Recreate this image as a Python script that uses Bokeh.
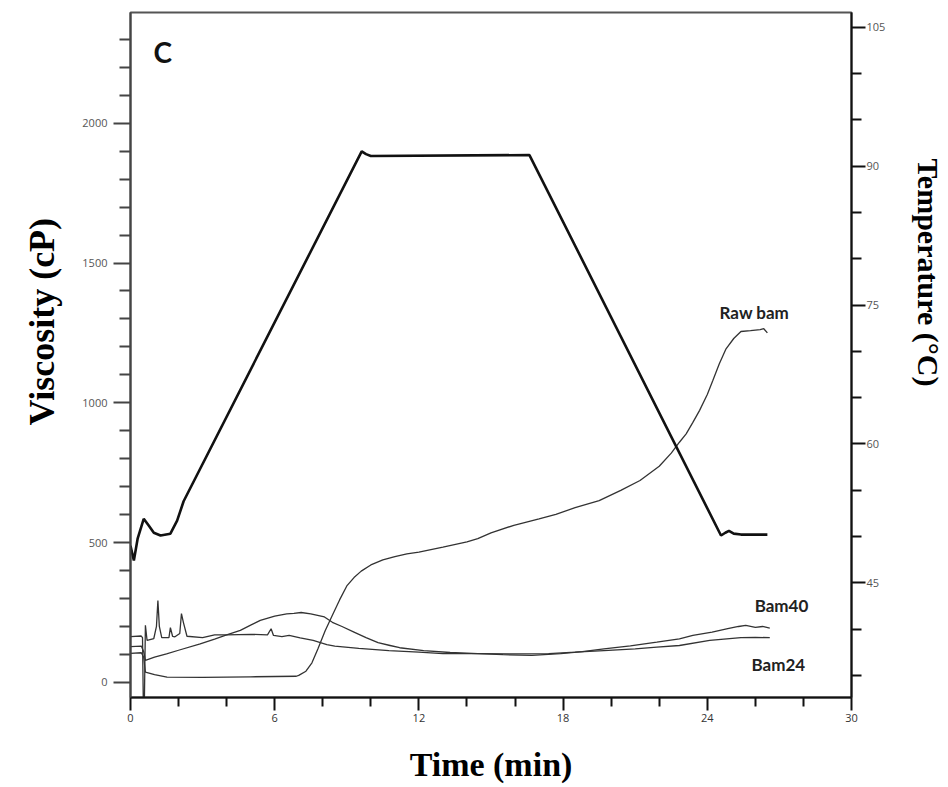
from bokeh.plotting import figure
from bokeh.models import Range1d, LinearAxis, FixedTicker, Label, Title
from bokeh.embed import file_html
from bokeh.resources import INLINE

# ---------------- data ----------------
temp_t = [0, 0.14, 0.3, 0.55, 0.75, 0.97, 1.25, 1.66, 1.94, 2.21, 9.62, 9.8, 10.0,
          16.6, 24.57, 24.75, 24.9, 25.1, 25.4, 26.5]
temp_v = [49.0, 47.4, 49.8, 51.9, 51.2, 50.4, 50.1, 50.3, 51.7, 53.8, 91.6, 91.3, 91.1,
          91.2, 50.1, 50.4, 50.6, 50.3, 50.2, 50.2]

raw_t = [0, 0.45, 0.55, 0.62, 1.0, 1.52, 3.0, 5.0, 6.9, 7.0, 7.3, 7.55, 7.8, 8.1, 8.4,
         8.7, 9.0, 9.3, 9.6, 10.0, 10.5, 11.0, 11.5, 12.0, 13.0, 14.0, 14.45, 15.0,
         15.95, 17.0, 17.7, 18.5, 19.5, 20.4, 21.2, 22.0, 22.5, 22.84, 23.12, 23.4,
         23.68, 24.0, 24.23, 24.5, 24.78, 25.1, 25.4, 25.8, 26.2, 26.35, 26.5]
raw_v = [104, 106, 90, 37, 28, 19, 18, 20, 22, 25, 40, 70, 120, 185, 240, 295, 345,
         375, 398, 420, 438, 450, 460, 466, 484, 503, 514, 535, 562, 585, 601, 625,
         650, 687, 722, 773, 820, 859, 889, 930, 973, 1030, 1080, 1140, 1193, 1230,
         1255, 1258, 1262, 1265, 1250]

b40_t = [0, 0.45, 0.55, 0.62, 1.0, 1.5, 2.0, 2.9, 3.5, 4.0, 4.57, 5.0, 5.4, 6.0, 6.5,
         6.8, 7.1, 7.5, 8.07, 8.4, 8.8, 9.3, 9.8, 10.3, 10.8, 11.2, 12.2, 13.3, 14.45,
         15.5, 16.7, 17.9, 18.8, 19.7, 20.8, 21.9, 22.84, 23.4, 24.2, 24.85, 25.3,
         25.6, 26.0, 26.3, 26.6]
b40_v = [128, 130, 110, 79, 90, 102, 115, 138, 155, 170, 186, 205, 222, 237, 245, 247,
         250, 245, 234, 215, 200, 180, 160, 142, 132, 124, 114, 107, 103, 99, 97, 103,
         110, 120, 131, 144, 156, 168, 180, 192, 200, 204, 197, 200, 194]

b24_t = [0, 0.44, 0.5, 0.53, 0.58, 0.62, 0.69, 0.97, 1.08, 1.14, 1.2, 1.3, 1.6, 1.66,
         1.75, 1.85, 2.05, 2.12, 2.2, 2.35, 3.0, 3.5, 4.0, 5.0, 5.7, 5.85, 5.95, 6.3,
         6.6, 7.06, 7.6, 8.17, 8.5, 9.5, 10.75, 12.0, 13.0, 14.5, 15.95, 17.4, 18.5,
         19.7, 21.0, 21.9, 22.84, 24.1, 25.4, 26.0, 26.6]
b24_v = [164, 166, 160, -54, -54, 204, 150, 157, 200, 293, 200, 160, 160, 196, 165,
         163, 175, 246, 215, 165, 160, 170, 170, 172, 170, 192, 168, 164, 168, 159,
         150, 135, 130, 122, 114, 108, 103, 103, 102, 103, 108, 114, 120, 126, 132,
         150, 160, 161, 160]

visc_major = [0, 500, 1000, 1500, 2000]
visc_minor = [100, 200, 300, 400, 600, 700, 800, 900, 1100, 1200, 1300, 1400,
              1600, 1700, 1800, 1900, 2100, 2200, 2300]
temp_major = [45, 60, 75, 90, 105]
temp_minor = [35, 40, 50, 55, 65, 70, 80, 85, 95, 100]
time_major = [0, 6, 12, 18, 24, 30]
time_minor = [2, 4, 8, 10, 14, 16, 20, 22, 26, 28]

# ---------------- figure ----------------
p = figure(width=948, height=787, output_backend="svg", toolbar_location=None,
           x_range=Range1d(0, 30), y_range=Range1d(-54, 2396),
           x_axis_location=None, y_axis_location=None,
           min_border_left=130, min_border_right=96, min_border_top=12,
           min_border_bottom=90)
p.extra_y_ranges = {"temp": Range1d(32.6, 106.6)}
p.outline_line_color = "#555555"
p.outline_line_width = 2
p.xgrid.visible = False
p.ygrid.visible = False

TICK_FONT = "Open Sans"
SERIF = "Liberation Serif"


def style_axis(ax, color, tick_out, minor_out, standoff, label_color):
    ax.axis_line_color = color
    ax.axis_line_width = 2
    ax.major_tick_line_color = color
    ax.major_tick_line_width = 2
    ax.minor_tick_line_color = color
    ax.minor_tick_line_width = 2
    ax.major_tick_in = 0
    ax.major_tick_out = tick_out
    ax.minor_tick_in = 0
    ax.minor_tick_out = minor_out
    ax.major_label_standoff = standoff
    ax.major_label_text_font = TICK_FONT
    ax.major_label_text_font_size = "11px"
    ax.major_label_text_color = label_color


left = LinearAxis(ticker=FixedTicker(ticks=visc_major, minor_ticks=visc_minor))
style_axis(left, "#444444", 17, 11, 6, "#555555")
p.add_layout(left, "left")

right = LinearAxis(y_range_name="temp",
                   ticker=FixedTicker(ticks=temp_major, minor_ticks=temp_minor))
style_axis(right, "#111111", 14, 10, 1, "#555555")
# trailing no-break spaces shift the centred label up toward the top of the axis
right.axis_label = "Temperature (°C)" + "\u00a0" * 22
right.axis_label_text_font = SERIF
right.axis_label_text_font_style = "bold"
right.axis_label_text_font_size = "30px"
right.axis_label_text_color = "black"
right.axis_label_standoff = 24
p.add_layout(right, "right")

bottom = LinearAxis(ticker=FixedTicker(ticks=time_major, minor_ticks=time_minor))
style_axis(bottom, "#111111", 13, 9, 3, "#333333")
bottom.axis_label = "Time (min)"
bottom.axis_label_text_font = SERIF
bottom.axis_label_text_font_style = "bold"
bottom.axis_label_text_font_size = "34px"
bottom.axis_label_text_color = "black"
bottom.axis_label_standoff = 21
p.add_layout(bottom, "below")

p.add_layout(Title(text="Viscosity (cP)", align="left", offset=272, standoff=36,
                   text_font=SERIF, text_font_style="bold", text_font_size="36px",
                   text_color="black"), "left")

# ---------------- curves ----------------
p.line(raw_t, raw_v, line_color="#333333", line_width=1.3)
p.line(b40_t, b40_v, line_color="#333333", line_width=1.3)
p.line(b24_t, b24_v, line_color="#333333", line_width=1.3)
p.line(temp_t, temp_v, y_range_name="temp", line_color="#111111", line_width=2.6)

# ---------------- texts ----------------
LBL = "Lato"
p.add_layout(Label(x=0.96, y=2253, text="C", text_font=LBL, text_font_style="bold",
                   text_font_size="28px", text_baseline="middle", text_align="left",
                   text_color="#111111"))
p.add_layout(Label(x=24.51, y=1323, text="Raw bam", text_font=LBL,
                   text_font_style="bold", text_font_size="17px",
                   text_baseline="middle", text_align="left", text_color="#222222"))
p.add_layout(Label(x=25.97, y=275, text="Bam40", text_font=LBL,
                   text_font_style="bold", text_font_size="17px",
                   text_baseline="middle", text_align="left", text_color="#222222"))
p.add_layout(Label(x=25.84, y=64, text="Bam24", text_font=LBL,
                   text_font_style="bold", text_font_size="17px",
                   text_baseline="middle", text_align="left", text_color="#222222"))

open("out.html", "w").write(file_html(p, INLINE))
